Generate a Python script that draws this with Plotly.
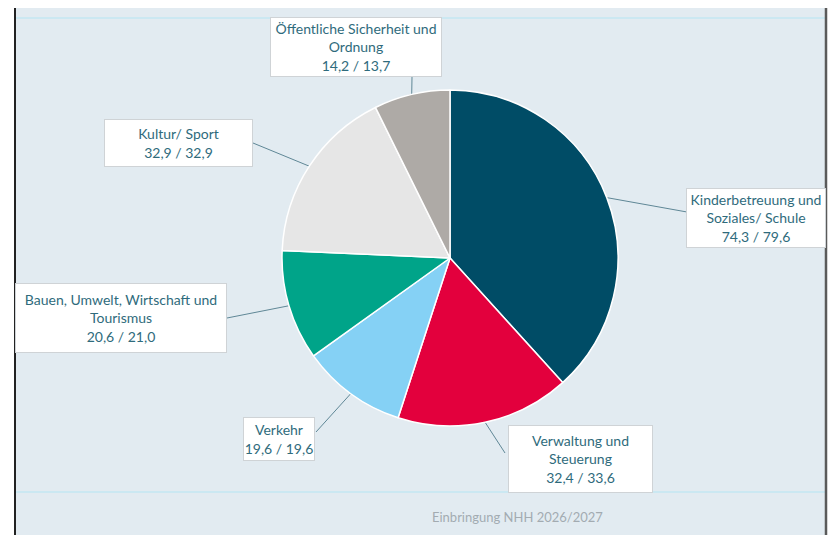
import math
import plotly.graph_objects as go

# ---- data ----
categories = [
    "Kinderbetreuung und<br>Soziales/ Schule",
    "Verwaltung und<br>Steuerung",
    "Verkehr",
    "Bauen, Umwelt, Wirtschaft und<br>Tourismus",
    "Kultur/ Sport",
    "Öffentliche Sicherheit und<br>Ordnung",
]
values_2026 = [74.3, 32.4, 19.6, 20.6, 32.9, 14.2]
values_2027 = [79.6, 33.6, 19.6, 21.0, 32.9, 13.7]
colors = ["#004c66", "#e3003d", "#85d1f5", "#00a489", "#e6e6e6", "#aeaaa6"]
footer = "Einbringung NHH 2026/2027"

# ---- layout constants (pixels, in page coordinates) ----
W, H = 840, 535
OFF = 8  # page body offset
CX, CY, R = 450, 258, 168

def px(x):
    return (x - OFF) / W

def py(y):
    return 1 - (y - OFF) / H

# box geometry: (center x, center y, width, height, leader anchor x, anchor y)
boxes = [
    (756, 218, 140, 60, 687, 212),
    (580, 459, 145, 68, 505, 453),
    (279, 439, 72, 44, 316, 432),
    (121, 318, 212, 70, 227, 318),
    (178, 143, 149, 48, 253, 143),
    (356, 47, 172, 60, 412, 77),
]

fig = go.Figure()
fig.add_trace(go.Pie(
    labels=[c.replace("<br>", " ") for c in categories],
    values=values_2026,
    sort=False,
    direction="clockwise",
    rotation=0,
    marker=dict(colors=colors, line=dict(color="white", width=1.5)),
    textinfo="none",
    hoverinfo="label+value",
    showlegend=False,
    domain=dict(x=[px(CX - R), px(CX + R)], y=[py(CY + R), py(CY - R)]),
))

shapes = [
    dict(type="rect", xref="paper", yref="paper", x0=px(15), x1=px(826), y0=0, y1=py(6),
         fillcolor="#e2ebf1", line=dict(width=0), layer="below"),
    dict(type="line", xref="paper", yref="paper", x0=px(15), x1=px(826), y0=py(18), y1=py(18),
         line=dict(color="#cbe8f2", width=2), layer="below"),
    dict(type="line", xref="paper", yref="paper", x0=px(15), x1=px(826), y0=py(492), y1=py(492),
         line=dict(color="#cbe8f2", width=2), layer="below"),
    dict(type="line", xref="paper", yref="paper", x0=px(15), x1=px(826), y0=py(6), y1=py(6),
         line=dict(color="#888888", width=2), layer="below"),
    dict(type="line", xref="paper", yref="paper", x0=px(15), x1=px(15), y0=0, y1=py(6),
         line=dict(color="#222222", width=2), layer="below"),
    dict(type="line", xref="paper", yref="paper", x0=px(826), x1=px(826), y0=0, y1=py(6),
         line=dict(color="#5a5a5a", width=2.5), layer="below"),
]

annotations = []
total = sum(values_2026)
cum = 0.0
for cat, v1, v2, box in zip(categories, values_2026, values_2027, boxes):
    mid = (cum + v1 / 2) / total * 2 * math.pi
    cum += v1
    hx = CX + R * math.sin(mid)
    hy = CY - R * math.cos(mid)
    bx, by, bw, bh, ax_, ay_ = box
    shapes.append(dict(type="line", xref="paper", yref="paper",
                       x0=px(hx), y0=py(hy), x1=px(ax_), y1=py(ay_),
                       line=dict(color="#5f8796", width=1), layer="below"))
    txt = f"{cat}<br>{v1:.1f} / {v2:.1f}".replace(".", ",")
    annotations.append(dict(
        x=px(bx), y=py(by), xref="paper", yref="paper",
        xanchor="center", yanchor="middle",
        text=txt, showarrow=False, align="center",
        width=bw - 2, height=bh - 2, borderpad=0, borderwidth=1,
        bgcolor="white", bordercolor="#cfd3d6",
        font=dict(family="Lato, Source Sans Pro, sans-serif", size=14, color="#2f6b7c"),
    ))

annotations.append(dict(
    x=px(518), y=py(517), xref="paper", yref="paper",
    xanchor="center", yanchor="middle", showarrow=False,
    text=footer,
    font=dict(family="Lato, Source Sans Pro, sans-serif", size=13, color="#a3abb1"),
))

fig.update_layout(
    width=W, height=H,
    margin=dict(l=0, r=0, t=0, b=0),
    paper_bgcolor="white",
    plot_bgcolor="white",
    shapes=shapes,
    annotations=annotations,
)

fig.write_html("out.html")
